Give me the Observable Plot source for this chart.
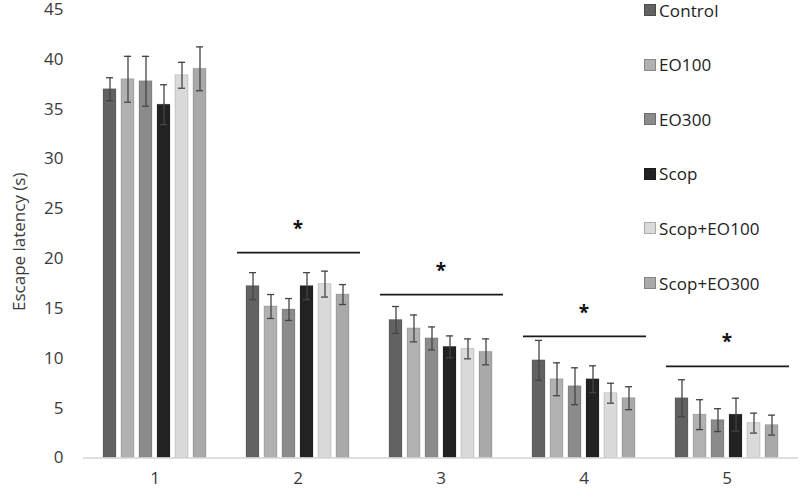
<!DOCTYPE html>
<html><head><meta charset="utf-8">
<script src="https://cdn.jsdelivr.net/npm/d3@7"></script>
<script src="https://cdn.jsdelivr.net/npm/@observablehq/plot@0.6"></script>
<style>
body{margin:0;background:#fff;font-family:"Open Sans",sans-serif}
#wrap{position:relative;width:800px;height:490px}
#legend{position:absolute;left:644px;top:0;width:156px;height:300px}
.item{position:absolute;left:0;white-space:nowrap;display:flex;align-items:center;font-size:17px;color:#222;height:20px;letter-spacing:0.1px}
.sw{width:12px;height:12px;margin-right:3px;box-sizing:border-box;border:1px solid rgba(0,0,0,.22)}
</style></head><body><div id="wrap"><div id="legend"></div></div>
<script>
const days = ["1","2","3","4","5"];
const groups = ["Control","EO100","EO300","Scop","Scop+EO100","Scop+EO300"];
const fills = ["#626262","#b1b1b1","#8b8b8b","#222222","#dadada","#a9a9a9"];

const meanControl  = [37.0, 17.25, 13.85, 9.8, 6.0];
const meanEO100    = [38.0, 15.2, 13.0, 7.9, 4.35];
const meanEO300    = [37.8, 14.9, 12.0, 7.2, 3.8];
const meanScop     = [35.45, 17.25, 11.15, 7.9, 4.35];
const meanScopEO100 = [38.4, 17.45, 10.95, 6.5, 3.5];
const meanScopEO300 = [39.05, 16.4, 10.65, 6.0, 3.3];

const errControl  = [1.15, 1.35, 1.35, 2.0, 1.85];
const errEO100    = [2.3, 1.2, 1.35, 1.65, 1.5];
const errEO300    = [2.5, 1.1, 1.15, 1.85, 1.15];
const errScop     = [2.0, 1.35, 1.1, 1.35, 1.65];
const errScopEO100 = [1.3, 1.3, 1.0, 1.0, 1.0];
const errScopEO300 = [2.2, 1.0, 1.3, 1.15, 1.0];

const sigDays = ["2","3","4","5"];
const sigLevels = [20.6, 16.4, 12.2, 9.2];

const yTicks = [0,5,10,15,20,25,30,35,40,45];
const yLabel = "Escape latency (s)";

const means = [meanControl, meanEO100, meanEO300, meanScop, meanScopEO100, meanScopEO300];
const errs = [errControl, errEO100, errEO300, errScop, errScopEO100, errScopEO300];

const data = [];
days.forEach((day, di) => {
  groups.forEach((g, gi) => {
    data.push({day, group: g, mean: means[gi][di], err: errs[gi][di]});
  });
});
const sig = sigDays.map((day, i) => ({day, level: sigLevels[i]}));
const labelData = [{day: days[0], text: yLabel}];

const chart = Plot.plot({
  width: 800,
  height: 490,
  marginLeft: 82,
  marginRight: 2,
  marginTop: 9,
  marginBottom: 32.5,
  style: {fontFamily: "Open Sans, sans-serif", fontSize: "17px", color: "#3a3a3a", background: "#fff", overflow: "visible"},
  fx: {domain: days, padding: 0},
  x: {domain: groups, paddingInner: 0.26, paddingOuter: 0.9, axis: null},
  y: {domain: [0, 45]},
  color: {domain: groups, range: fills},
  marks: [
    Plot.barY(data, {fx: "day", x: "group", y: "mean", fill: "group", stroke: "#000", strokeOpacity: 0.14, strokeWidth: 1}),
    Plot.ruleX(data, {fx: "day", x: "group", y1: d => d.mean - d.err, y2: d => d.mean + d.err, stroke: "#444", strokeWidth: 1.3}),
    Plot.tickY(data, {fx: "day", x: "group", y: d => d.mean + d.err, stroke: "#444", strokeWidth: 1.3, insetLeft: 3, insetRight: 3}),
    Plot.tickY(data, {fx: "day", x: "group", y: d => d.mean - d.err, stroke: "#444", strokeWidth: 1.3, insetLeft: 3, insetRight: 3}),
    Plot.ruleY([0], {stroke: "#d4d4d4", strokeWidth: 1.5}),
    Plot.ruleY(sig, {fx: "day", y: "level", stroke: "#1a1a1a", strokeWidth: 1.8, insetLeft: 11, insetRight: 9}),
    Plot.text(sig, {fx: "day", y: "level", text: () => "*", fontSize: 19, fontWeight: "bold", fill: "#111", dy: -24}),
    Plot.axisY({ticks: yTicks, tickSize: 0, tickPadding: 20, fontSize: 17, label: null}),
    Plot.text(labelData, {fx: "day", text: "text", frameAnchor: "left", textAnchor: "middle", rotate: -90, dx: -64, dy: 8, fontSize: 17, fill: "#3a3a3a"}),
    Plot.axisFx({anchor: "bottom", tickSize: 0, tickPadding: 14, fontSize: 17, label: null})
  ]
});

const wrap = document.getElementById("wrap");
wrap.insertBefore(chart, wrap.firstChild);

const legend = document.getElementById("legend");
groups.forEach((g, i) => {
  const item = document.createElement("div");
  item.className = "item";
  item.style.top = (i * 54.6) + "px";
  const sw = document.createElement("span");
  sw.className = "sw";
  sw.style.background = fills[i];
  const label = document.createElement("span");
  label.textContent = g;
  item.appendChild(sw);
  item.appendChild(label);
  legend.appendChild(item);
});
</script>
</body></html>
